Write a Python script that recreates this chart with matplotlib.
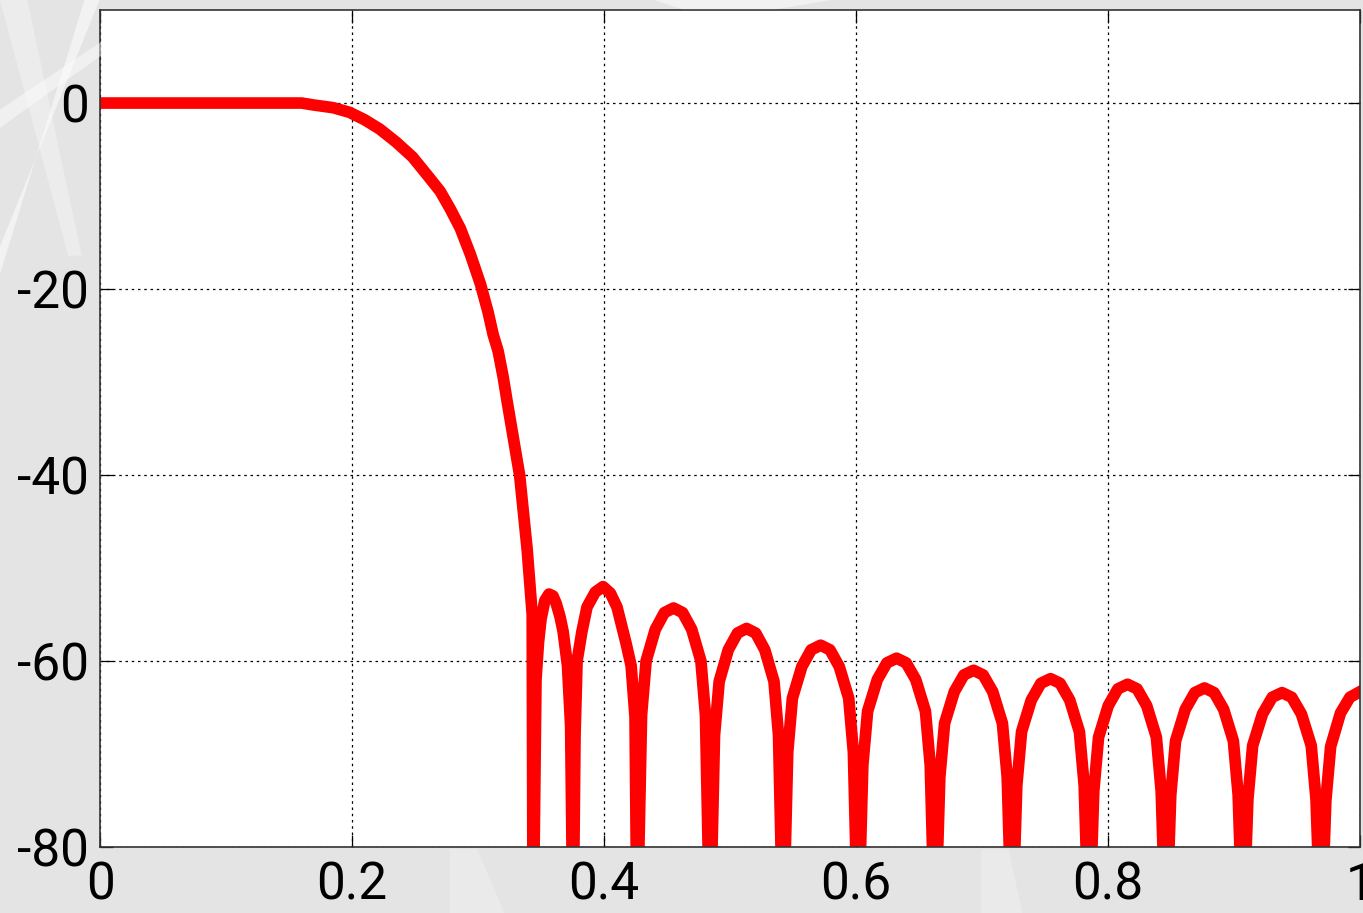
import matplotlib
matplotlib.use("Agg")
import matplotlib.pyplot as plt
from matplotlib.patches import Polygon

# normalised frequency and magnitude (dB)
# passband + transition band
pass_freq = [0.0, 0.100, 0.160, 0.169, 0.185, 0.198, 0.210, 0.222, 0.235,
             0.248, 0.260, 0.270, 0.278, 0.286, 0.294, 0.302, 0.308, 0.312,
             0.316, 0.320, 0.323, 0.328, 0.333, 0.336, 0.339, 0.341, 0.343]
pass_db = [0.0, 0.0, 0.0, -0.2, -0.5, -1.0, -1.8, -2.8, -4.2,
           -5.8, -7.8, -9.5, -11.4, -13.5, -16.3, -19.5, -22.5, -24.9,
           -26.7, -29.5, -32.0, -36.0, -40.0, -44.0, -48.0, -51.5, -55.0]

# stopband: first two (irregular) lobes
lobe_freq = [0.3437, 0.3460, 0.3480, 0.3500, 0.3530, 0.3563, 0.3595, 0.3620,
             0.3650, 0.3675, 0.3710, 0.3735,
             0.3754, 0.3770, 0.3786, 0.3825, 0.3865, 0.3930, 0.3992, 0.4050,
             0.4103, 0.4175, 0.4215, 0.4246]
lobe_db = [-90.0, -62.0, -58.0, -55.5, -53.5, -52.8, -53.0, -53.8,
           -55.2, -56.8, -60.5, -67.0,
           -90.0, -68.0, -60.0, -56.8, -54.2, -52.6, -52.0, -52.7,
           -54.2, -58.1, -60.5, -66.0]

# remaining sidelobes: null, 1/16, 1/8, 1/4, 3/8, peak, 5/8, 3/4, 7/8, 15/16
side_freq = [
    0.4262, 0.4298, 0.4334, 0.4407, 0.4479, 0.4552, 0.4624, 0.4696, 0.4769, 0.4805,
    0.4841, 0.4877, 0.4914, 0.4986, 0.5059, 0.5131, 0.5204, 0.5276, 0.5349, 0.5385,
    0.5421, 0.5458, 0.5495, 0.5570, 0.5644, 0.5719, 0.5793, 0.5867, 0.5942, 0.5979,
    0.6016, 0.6054, 0.6092, 0.6169, 0.6245, 0.6322, 0.6398, 0.6474, 0.6551, 0.6589,
    0.6627, 0.6665, 0.6703, 0.6780, 0.6856, 0.6933, 0.7009, 0.7085, 0.7162, 0.7200,
    0.7238, 0.7276, 0.7314, 0.7391, 0.7467, 0.7544, 0.7620, 0.7696, 0.7773, 0.7811,
    0.7849, 0.7887, 0.7925, 0.8002, 0.8078, 0.8155, 0.8231, 0.8307, 0.8384, 0.8422,
    0.8460, 0.8498, 0.8536, 0.8613, 0.8689, 0.8766, 0.8842, 0.8918, 0.8995, 0.9033,
    0.9071, 0.9110, 0.9148, 0.9226, 0.9303, 0.9381, 0.9458, 0.9535, 0.9613, 0.9651,
    0.9690, 0.9729, 0.9767, 0.9845, 0.9920, 1.0000,
]
side_db = [
    -90.0, -65.8, -60.0, -56.6, -54.8, -54.3, -54.8, -56.6, -60.0, -65.8,
    -90.0, -68.0, -62.2, -58.8, -57.0, -56.5, -57.0, -58.8, -62.2, -68.0,
    -90.0, -69.8, -64.0, -60.6, -58.8, -58.3, -58.8, -60.6, -64.0, -69.8,
    -90.0, -71.2, -65.4, -62.0, -60.2, -59.7, -60.2, -62.0, -65.4, -71.2,
    -90.0, -72.5, -66.7, -63.3, -61.5, -61.0, -61.5, -63.3, -66.7, -72.5,
    -90.0, -73.4, -67.6, -64.2, -62.4, -61.9, -62.4, -64.2, -67.6, -73.4,
    -90.0, -74.0, -68.2, -64.8, -63.0, -62.5, -63.0, -64.8, -68.2, -74.0,
    -90.0, -74.4, -68.6, -65.2, -63.4, -62.9, -63.4, -65.2, -68.6, -74.4,
    -90.0, -74.9, -69.1, -65.7, -63.9, -63.4, -63.9, -65.7, -69.1, -74.9,
    -90.0, -75.0, -69.2, -65.6, -63.9, -63.3,
]

x_ticks = [0, 0.2, 0.4, 0.6, 0.8, 1]
x_labels = ["0", "0.2", "0.4", "0.6", "0.8", "1"]
y_ticks = [-80, -60, -40, -20, 0]
y_labels = ["-80", "-60", "-40", "-20", "0"]

freq = pass_freq + lobe_freq + side_freq
mag = pass_db + lobe_db + side_db

plt.rcParams['font.family'] = ['Roboto', 'DejaVu Sans']

fig = plt.figure(figsize=(13.63, 9.13), dpi=100)
fig.patch.set_facecolor("#e4e4e4")

# slide background streaks
streaks = [
    ([(0, 0.70), (0, 0.73), (0.073, 1.0), (0.062, 1.0)], 0.55),
    ([(0, 0.86), (0, 0.88), (0.075, 0.955), (0.075, 0.94)], 0.45),
    ([(0, 1.0), (0.02, 1.0), (0.06, 0.72), (0.05, 0.72)], 0.3),
    ([(0.33, 0.0), (0.37, 0.0), (0.35, 0.07), (0.33, 0.07)], 0.25),
    ([(0.72, 0.0), (0.75, 0.0), (0.74, 0.07), (0.72, 0.07)], 0.25),
    ([(0.48, 1.0), (0.61, 1.0), (0.57, 0.99), (0.50, 0.99)], 0.5),
]
for pts, a in streaks:
    fig.patches.append(Polygon(pts, closed=True, transform=fig.transFigure,
                               facecolor="white", edgecolor="none", alpha=a))

ax = fig.add_axes([0.0734, 0.0723, 0.9244, 0.9167])
ax.set_facecolor("white")
ax.plot(freq, mag, color="#ff0000", linewidth=8.4, solid_joinstyle="round")

ax.set_xlim(0, 1)
ax.set_ylim(-80, 10)
ax.set_xticks(x_ticks)
ax.set_xticklabels(x_labels)
ax.set_yticks(y_ticks)
ax.set_yticklabels(y_labels)
ax.grid(True, color="black", linestyle=(0, (2, 3)), linewidth=0.9)
ax.tick_params(direction="in", length=9, width=0.9, top=True, right=True,
               labelsize=37, colors="black")
ax.tick_params(axis="x", pad=10)
ax.tick_params(axis="y", pad=8)
for s in ax.spines.values():
    s.set_color("#333333")
    s.set_linewidth(1.2)

fig.savefig("out.png", dpi=100, facecolor=fig.get_facecolor())
